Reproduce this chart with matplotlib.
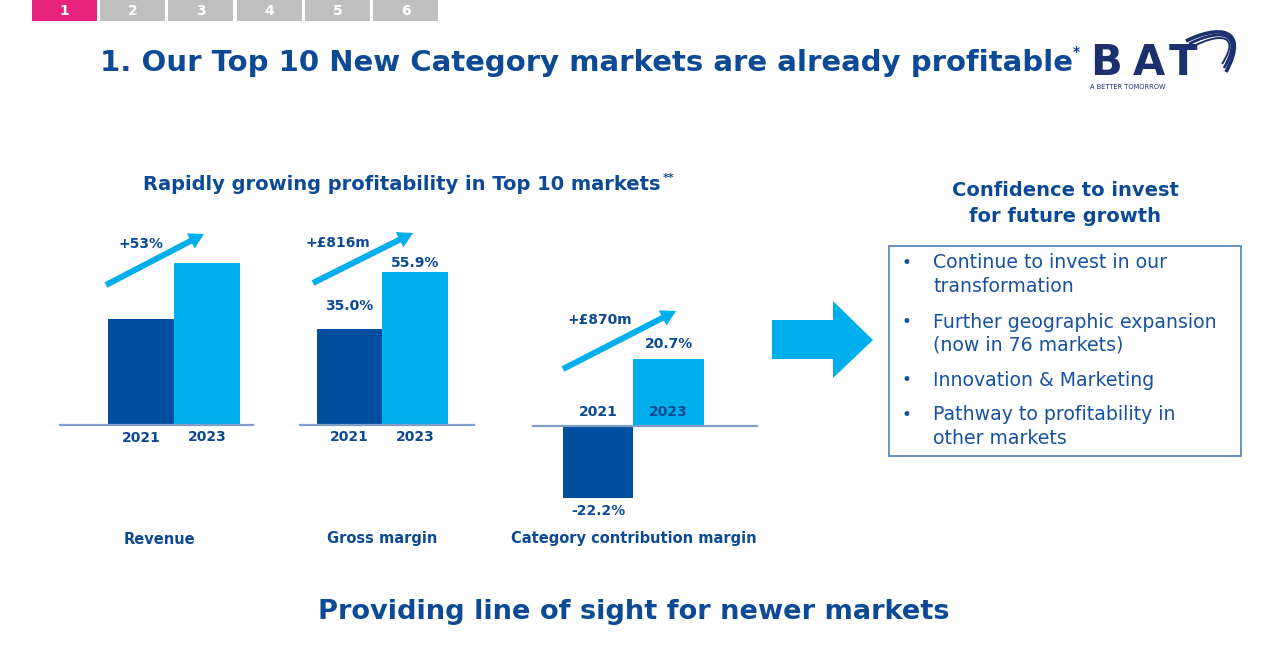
import matplotlib
matplotlib.use("Agg")
import matplotlib.pyplot as plt
from matplotlib.patches import Rectangle, Polygon, FancyArrow, PathPatch
from matplotlib.path import Path

# ---------------- data ----------------
years = ["2021", "2023"]
revenue_index = [100, 153]          # indexed revenue (2021 = 100), +53%
gross_margin = [35.0, 55.9]         # %
contrib_margin = [-22.2, 20.7]      # %
chart_titles = ["Revenue", "Gross margin", "Category contribution margin"]
growth_labels = ["+53%", "+£816m", "+£870m"]
tabs = ["1", "2", "3", "4", "5", "6"]
bullets = [["Continue to invest in our", "transformation"],
           ["Further geographic expansion", "(now in 76 markets)"],
           ["Innovation & Marketing"],
           ["Pathway to profitability in", "other markets"]]

DARK = "#004F9F"
LIGHT = "#00AEEB"
NAVY = "#0D4A96"
TXT = "#1652A0"
BASE = "#7F9FCB"
plt.rcParams["font.family"] = ["DejaVu Sans"]

W, H = 1270, 657
fig = plt.figure(figsize=(W / 100, H / 100), dpi=100)
bg = fig.add_axes([0, 0, 1, 1])
bg.set_xlim(0, W)
bg.set_ylim(H, 0)
bg.axis("off")


def pax(x0, x1, ytop, ybot):
    return fig.add_axes([x0 / W, 1 - ybot / H, (x1 - x0) / W, (ybot - ytop) / H])


# ---------------- tabs ----------------
tab_x = [32, 100, 168, 237, 305, 373]
for i, t in enumerate(tabs):
    bg.add_patch(Rectangle((tab_x[i], 0), 65, 21,
                           color="#E8237F" if i == 0 else "#BFBFBF", lw=0))
    bg.text(tab_x[i] + 32.5, 11, t, color="white", fontsize=10,
            fontweight="bold", ha="center", va="center")

# ---------------- title ----------------
bg.text(586, 63, "1. Our Top 10 New Category markets are already profitable",
        color=NAVY, fontsize=21, fontweight="bold", ha="center", va="center")
bg.text(1076, 52, "*", color=NAVY, fontsize=10, fontweight="bold",
        ha="center", va="center")

# ---------------- BAT logo ----------------
LOGO = "#1C2F6E"
for ch, x in zip("BAT", [1106, 1149, 1183]):
    bg.text(x, 63, ch, color=LOGO, fontsize=30, fontweight="bold",
            ha="center", va="center")
bg.text(1090, 87, "A BETTER TOMORROW", color=LOGO, fontsize=4.8,
        ha="left", va="center")
for k, lw in enumerate([2.6, 2.0, 1.4]):
    verts = [(1186 + 3 * k, 41 + 3 * k), (1218, 25 + 4 * k), (1250 - 4 * k, 27 + 3 * k),
             (1226 - 2 * k, 72 - 4 * k)]
    bg.add_patch(PathPatch(Path(verts, [Path.MOVETO, Path.CURVE4, Path.CURVE4, Path.CURVE4]),
                           fill=False, color=LOGO, lw=lw, capstyle="butt"))

# ---------------- subtitle ----------------
bg.text(402, 184, "Rapidly growing profitability in Top 10 markets",
        color=NAVY, fontsize=14, fontweight="bold", ha="center", va="center")
bg.text(669, 178, "**", color=NAVY, fontsize=8, fontweight="bold",
        ha="center", va="center")

# ---------------- bar charts ----------------
charts = [
    dict(vals=revenue_index, box=(60, 253, 213, 425), xlim=(-1.227, 1.697),
         ylim=(0, 200), labels=None, title_y=540, title_x=159,
         year_off=(-13, -12)),
    dict(vals=gross_margin, box=(300, 474, 213, 425), xlim=(-0.756, 1.90),
         ylim=(0, 77.4), labels=["35.0%", "55.9%"], lab_off=[23, 9],
         title_y=538, title_x=382, year_off=(-12, -12)),
    dict(vals=contrib_margin, box=(533, 757, 213, 520), xlim=(-0.922, 2.255),
         ylim=(-28.8, 65.3), labels=["-22.2%", "20.7%"], lab_off=[13, 15],
         title_y=538, title_x=634, year_off=(14, 14)),
]
for ci, c in enumerate(charts):
    ax = pax(*c["box"])
    ax.set_xlim(*c["xlim"])
    ax.set_ylim(*c["ylim"])
    ax.axis("off")
    ax.patch.set_alpha(0)
    xs = [0, 1]
    ax.bar(xs, c["vals"], width=1.0, color=[DARK, LIGHT], lw=0, zorder=2)
    ax.axhline(0, color=BASE, lw=1.6, zorder=3, clip_on=False)
    for i, v in enumerate(c["vals"]):
        if c["labels"]:
            off = c["lab_off"][i] * (1 if v >= 0 else -1)
            ax.annotate(c["labels"][i], (xs[i], v), xytext=(0, off),
                        textcoords="offset pixels", ha="center", va="center",
                        color=NAVY, fontsize=10, fontweight="bold", zorder=4)
        ax.annotate(years[i], (xs[i], 0), xytext=(0, c["year_off"][i]),
                    textcoords="offset pixels", ha="center", va="center",
                    color=NAVY, fontsize=10, fontweight="bold", zorder=4)
    bg.text(c["title_x"], c["title_y"], chart_titles[ci],
            color=NAVY, fontsize=10.5, fontweight="bold", ha="center", va="center")

# growth arrows + labels
arrows = [((106, 285), (204, 234)), ((313, 283), (413, 233)), ((563, 369), (676, 311))]
glab_pos = [(141, 244), (338, 243), (600, 320)]
for (p0, p1), lab, lp in zip(arrows, growth_labels, glab_pos):
    bg.add_patch(FancyArrow(p0[0], p0[1], p1[0] - p0[0], p1[1] - p0[1], width=6,
                            head_width=17, head_length=15, length_includes_head=True,
                            color=LIGHT, lw=0, zorder=5))
    bg.text(lp[0], lp[1], lab, color=NAVY, fontsize=10, fontweight="bold",
            ha="center", va="center")

# ---------------- big arrow ----------------
bg.add_patch(Polygon([(772, 320), (833, 320), (833, 301), (873, 340), (833, 378),
                      (833, 359), (772, 359)], closed=True, color=LIGHT, lw=0))

# ---------------- right panel ----------------
bg.text(1065, 190, "Confidence to invest", color=NAVY, fontsize=14,
        fontweight="bold", ha="center", va="center")
bg.text(1065, 216, "for future growth", color=NAVY, fontsize=14,
        fontweight="bold", ha="center", va="center")
bg.add_patch(Rectangle((889, 246), 352, 210, fill=False, ec="#5B88C2", lw=1.3))
line_y = [[263, 287], [322, 345], [380], [415, 439]]
for lines, ys in zip(bullets, line_y):
    bg.text(906, ys[0], "•", color=TXT, fontsize=12, ha="center", va="center")
    for t, y in zip(lines, ys):
        bg.text(933, y, t, color=TXT, fontsize=13.6, ha="left", va="center")

# ---------------- bottom ----------------
bg.text(634, 612, "Providing line of sight for newer markets", color=NAVY,
        fontsize=19.6, fontweight="bold", ha="center", va="center")

fig.savefig("out.png", dpi=100)
